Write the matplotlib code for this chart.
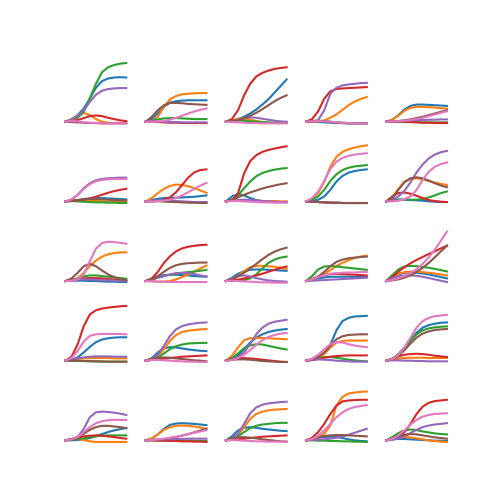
import matplotlib
matplotlib.use('Agg')
import matplotlib.pyplot as plt

# shared time axis (11 samples per curve)
time = [0, 10, 20, 30, 40, 50, 60, 70, 80, 90, 100]

# each panel: [blue, orange, green, red, purple, brown, pink]
r1c1 = [[0, 8, 20, 40, 70, 103, 123, 131, 134, 135, 134],
        [0, 8, 18, 27, 20, 8, 0, -3, -4, -4, -4],
        [0, 4, 12, 30, 70, 115, 150, 165, 172, 176, 178],
        [0, 2, 5, 11, 17, 19, 17, 12, 8, 4, 2],
        [0, 6, 17, 35, 60, 82, 94, 99, 101, 102, 102],
        [0, -1, -2, -3, -4, -4, -5, -5, -5, -5, -5],
        [0, 2, 1, -1, -3, -4, -5, -5, -5, -5, -5]]
r1c2 = [[0, 8, 25, 45, 58, 62, 64, 65, 65, 65, 65],
        [0, 2, 15, 45, 68, 78, 83, 85, 86, 87, 87],
        [0, 3, 7, 10, 11, 11, 10, 9, 8, 8, 8],
        [0, 0, -1, -2, -3, -3, -4, -4, -4, -4, -4],
        [0, 1, 1, 0, -1, -1, -2, -2, -2, -2, -2],
        [0, 15, 35, 50, 57, 57, 56, 54, 53, 52, 51],
        [0, 0, 1, 2, 6, 12, 18, 25, 31, 36, 40]]
r1c3 = [[0, 3, 8, 15, 25, 37, 52, 68, 88, 108, 128],
        [0, 4, 9, 10, 6, 2, -1, -3, -4, -4, -4],
        [0, 3, 4, 3, 1, 0, -1, -2, -3, -3, -3],
        [0, 8, 35, 80, 115, 137, 148, 155, 160, 163, 165],
        [0, 2, 6, 10, 13, 12, 9, 6, 3, 1, 0],
        [0, 2, 5, 10, 18, 27, 38, 50, 62, 72, 80],
        [0, -1, -2, -3, -4, -4, -5, -5, -5, -5, -5]]
r1c4 = [[0, 0, -1, -2, -3, -4, -4, -5, -5, -5, -5],
        [0, 0, 1, 4, 12, 22, 36, 50, 61, 69, 75],
        [0, 2, 3, 2, 0, -2, -3, -4, -4, -4, -4],
        [0, 8, 32, 70, 92, 99, 101, 102, 103, 104, 105],
        [0, 1, 5, 35, 85, 103, 110, 113, 115, 117, 118],
        [0, 1, 2, 1, -1, -3, -4, -5, -5, -5, -5],
        [0, 1, 2, 1, 0, -2, -3, -4, -5, -5, -5]]
r1c5 = [[0, 6, 20, 37, 48, 52, 52, 51, 50, 49, 48],
        [0, 6, 18, 33, 42, 45, 45, 44, 43, 41, 40],
        [0, 0, 0, -1, -1, -1, -2, -2, -2, -2, -2],
        [0, 1, 1, 0, -1, -2, -3, -3, -4, -4, -4],
        [0, 1, 2, 3, 4, 5, 5, 6, 6, 7, 7],
        [0, 1, 2, 4, 7, 11, 15, 20, 25, 30, 35],
        [0, 1, 2, 3, 5, 8, 12, 17, 22, 27, 32]]

r2c1 = [[0, 2, 4, 7, 9, 10, 10, 9, 8, 7, 6],
        [0, 2, 3, 3, 2, 1, 0, -1, -1, -2, -2],
        [0, 1, 0, -1, -2, -3, -3, -4, -4, -5, -5],
        [0, 1, 3, 5, 9, 14, 20, 26, 31, 35, 38],
        [0, 6, 20, 40, 55, 64, 68, 70, 71, 72, 72],
        [0, 2, 4, 6, 7, 7, 6, 5, 4, 3, 3],
        [0, 6, 19, 38, 52, 61, 65, 67, 68, 68, 68]]
r2c2 = [[0, 4, 8, 10, 11, 11, 12, 13, 14, 16, 18],
        [0, 10, 25, 38, 47, 51, 50, 46, 40, 33, 26],
        [0, 1, 1, 0, -1, -1, -2, -2, -3, -3, -3],
        [0, 0, 1, 4, 12, 28, 50, 72, 88, 95, 97],
        [0, 2, 3, 3, 2, 1, 0, -1, -2, -2, -2],
        [0, 1, 1, 0, -1, -2, -3, -4, -4, -5, -5],
        [0, 0, 1, 2, 5, 10, 18, 28, 38, 48, 56]]
r2c3 = [[0, 15, 22, 18, 10, 4, 1, -1, -2, -2, -2],
        [0, 3, 4, 3, 2, 2, 1, 1, 1, 0, 0],
        [0, 5, 18, 40, 60, 76, 86, 92, 96, 99, 101],
        [0, 3, 25, 85, 122, 140, 150, 156, 160, 164, 167],
        [0, 2, 4, 5, 4, 3, 1, 0, -1, -2, -2],
        [0, 5, 12, 20, 27, 33, 39, 44, 48, 52, 55],
        [0, 1, 1, 0, -1, -2, -3, -3, -4, -4, -4]]
r2c4 = [[0, 1, 5, 15, 35, 60, 77, 87, 92, 95, 97],
        [0, 8, 25, 60, 105, 135, 150, 158, 163, 167, 170],
        [0, 5, 15, 35, 62, 82, 95, 102, 106, 108, 110],
        [0, -1, -2, -3, -4, -4, -5, -5, -5, -5, -5],
        [0, -1, -2, -3, -4, -4, -5, -5, -5, -5, -5],
        [0, -1, -2, -3, -4, -4, -5, -5, -5, -5, -5],
        [0, 10, 30, 62, 98, 120, 132, 138, 142, 144, 146]]
r2c5 = [[0, 5, 6, 5, 4, 3, 2, 0, -1, -2, -2],
        [0, 12, 38, 60, 68, 70, 67, 62, 57, 53, 50],
        [0, 2, 4, 5, 5, 5, 7, 12, 18, 25, 30],
        [0, 15, 25, 27, 23, 17, 10, 4, 1, -1, -2],
        [0, 5, 15, 32, 58, 88, 112, 130, 142, 149, 153],
        [0, 10, 35, 58, 70, 73, 70, 63, 55, 48, 43],
        [0, 0, 2, 6, 15, 35, 65, 90, 105, 113, 118]]

r3c1 = [[0, 1, 1, 1, 0, 0, -1, -2, -2, -3, -3],
        [0, 2, 8, 25, 45, 62, 74, 81, 85, 87, 87],
        [0, 3, 8, 14, 17, 17, 15, 13, 11, 9, 7],
        [0, 3, 5, 8, 9, 9, 8, 6, 4, 3, 2],
        [0, 2, 4, 5, 5, 4, 3, 2, 1, 0, 0],
        [0, 8, 25, 45, 52, 45, 32, 20, 12, 5, 2],
        [0, 1, 5, 20, 60, 98, 115, 119, 118, 116, 113]]
r3c2 = [[0, 6, 14, 18, 19, 19, 18, 17, 15, 14, 13],
        [0, 0, -2, -2, 0, 5, 12, 20, 28, 38, 47],
        [0, 5, 10, 15, 19, 22, 25, 27, 29, 31, 34],
        [0, 8, 28, 55, 75, 90, 99, 104, 107, 109, 110],
        [0, 4, 10, 15, 20, 24, 25, 24, 21, 17, 14],
        [0, 5, 15, 28, 40, 48, 52, 54, 55, 56, 56],
        [0, -1, -2, -2, -3, -3, -3, -3, -3, -3, -3]]
r3c3 = [[0, 10, 22, 30, 34, 35, 35, 34, 33, 32, 31],
        [0, 5, 15, 30, 42, 46, 46, 45, 43, 40, 37],
        [0, 0, 1, 3, 8, 20, 38, 55, 65, 71, 74],
        [0, 2, 4, 8, 12, 17, 22, 28, 34, 40, 44],
        [0, 8, 15, 17, 14, 9, 5, 2, 0, -1, -2],
        [0, 5, 14, 25, 38, 52, 66, 79, 89, 96, 101],
        [0, 1, 0, -1, -2, -3, -4, -4, -5, -5, -5]]
r3c4 = [[0, 4, 8, 11, 13, 13, 13, 13, 12, 12, 12],
        [0, 5, 12, 22, 33, 45, 55, 63, 70, 74, 77],
        [0, 15, 35, 44, 45, 44, 42, 40, 38, 36, 34],
        [0, 6, 13, 18, 21, 22, 21, 20, 19, 18, 17],
        [0, 1, 2, 3, 4, 5, 6, 7, 8, 9, 10],
        [0, 5, 14, 28, 45, 58, 65, 69, 71, 73, 74],
        [0, 5, 12, 18, 22, 24, 25, 26, 26, 27, 27]]
r3c5 = [[0, 10, 20, 25, 26, 25, 23, 20, 16, 12, 8],
        [0, 12, 22, 27, 28, 28, 27, 25, 23, 20, 17],
        [0, 18, 35, 44, 46, 45, 43, 40, 37, 33, 29],
        [0, 12, 28, 42, 54, 64, 73, 82, 90, 99, 107],
        [0, 8, 14, 17, 17, 16, 13, 9, 5, 1, -3],
        [0, 2, 5, 10, 18, 28, 40, 55, 72, 90, 107],
        [0, 3, 8, 15, 24, 36, 52, 72, 95, 122, 150]]

r4c1 = [[0, 3, 10, 25, 42, 56, 64, 68, 70, 71, 71],
        [0, 2, 5, 7, 8, 8, 8, 8, 7, 7, 7],
        [0, 0, -1, -1, -2, -2, -3, -3, -3, -3, -3],
        [0, 12, 50, 105, 140, 153, 158, 161, 163, 165, 166],
        [0, 3, 7, 10, 12, 13, 13, 13, 12, 12, 12],
        [0, 0, 0, -1, -1, -2, -2, -3, -3, -3, -3],
        [0, 8, 30, 58, 75, 80, 81, 81, 81, 81, 80]]
r4c2 = [[0, 8, 25, 38, 41, 40, 37, 34, 32, 30, 29],
        [0, 4, 14, 35, 60, 78, 87, 91, 93, 95, 96],
        [0, 3, 10, 22, 35, 44, 49, 52, 53, 54, 54],
        [0, 2, 4, 6, 8, 10, 12, 13, 14, 15, 16],
        [0, 5, 18, 45, 75, 95, 105, 110, 113, 115, 116],
        [0, 6, 9, 10, 9, 7, 5, 3, 1, 0, -2],
        [0, 2, 2, 1, 0, -1, -2, -3, -3, -4, -4]]
r4c3 = [[0, 4, 15, 35, 55, 70, 80, 87, 91, 94, 96],
        [0, 15, 40, 62, 68, 69, 69, 68, 67, 66, 65],
        [0, 8, 22, 38, 46, 50, 49, 45, 41, 37, 34],
        [0, 5, 7, 8, 7, 5, 3, 1, -1, -3, -4],
        [0, 3, 10, 25, 50, 80, 100, 112, 118, 121, 124],
        [0, 3, 4, 4, 3, 1, -1, -2, -3, -4, -4],
        [0, 2, 8, 18, 32, 48, 62, 72, 78, 82, 84]]
r4c4 = [[0, 3, 10, 22, 48, 92, 120, 130, 134, 135, 136],
        [0, 2, 8, 20, 40, 55, 60, 61, 61, 61, 61],
        [0, 5, 9, 11, 11, 9, 6, 3, 1, -1, -2],
        [0, 2, 5, 9, 12, 14, 15, 16, 16, 16, 16],
        [0, 3, 4, 3, 2, 0, -1, -2, -3, -3, -3],
        [0, 4, 12, 25, 45, 65, 74, 78, 79, 80, 80],
        [0, 6, 18, 35, 50, 56, 55, 50, 46, 43, 41]]
r4c5 = [[0, 5, 18, 38, 62, 85, 100, 108, 112, 115, 116],
        [0, 3, 6, 8, 9, 9, 9, 8, 8, 8, 8],
        [0, 6, 20, 40, 62, 80, 92, 98, 101, 103, 104],
        [0, 6, 13, 18, 20, 21, 20, 18, 15, 13, 11],
        [0, 1, 1, 0, 0, -1, -1, -2, -2, -2, -2],
        [0, 4, 15, 32, 52, 70, 82, 89, 93, 95, 96],
        [0, 5, 18, 40, 70, 100, 120, 130, 135, 137, 139]]

r5c1 = [[0, 0, 1, 3, 7, 13, 19, 25, 30, 34, 37],
        [0, 3, 4, 1, -3, -5, -5, -5, -5, -5, -5],
        [0, 2, 4, 6, 9, 12, 14, 15, 15, 15, 15],
        [0, 4, 8, 12, 14, 15, 14, 12, 10, 7, 5],
        [0, 3, 10, 35, 70, 85, 87, 86, 84, 81, 77],
        [0, 4, 10, 20, 32, 40, 44, 44, 42, 40, 37],
        [0, 3, 10, 25, 40, 52, 58, 61, 62, 62, 62]]
r5c2 = [[0, 5, 18, 35, 47, 51, 52, 51, 50, 48, 46],
        [0, 6, 18, 32, 40, 44, 45, 44, 42, 39, 35],
        [0, 0, 0, 0, -1, -1, -1, -1, -2, -2, -2],
        [0, 0, -1, -1, -2, -2, -3, -3, -4, -4, -5],
        [0, 1, 2, 3, 3, 4, 4, 5, 5, 5, 5],
        [0, 1, 2, 4, 7, 10, 14, 19, 24, 30, 35],
        [0, 1, 3, 5, 8, 11, 15, 19, 23, 27, 31]]
r5c3 = [[0, 12, 30, 38, 40, 38, 35, 33, 31, 29, 28],
        [0, 4, 16, 40, 65, 80, 87, 91, 93, 94, 95],
        [0, 4, 12, 25, 37, 44, 48, 50, 52, 53, 53],
        [0, 1, 3, 5, 7, 9, 11, 12, 13, 14, 15],
        [0, 5, 20, 50, 82, 100, 108, 112, 114, 116, 117],
        [0, 6, 9, 10, 8, 6, 3, 1, -1, -3, -4],
        [0, 1, 0, -1, -2, -3, -3, -4, -4, -4, -4]]
r5c4 = [[0, 4, 8, 10, 11, 10, 7, 3, 0, -2, -3],
        [0, 2, 8, 20, 45, 105, 132, 142, 145, 147, 148],
        [0, 0, -1, -1, -2, -2, -3, -3, -4, -4, -5],
        [0, 8, 25, 50, 80, 105, 118, 121, 122, 123, 123],
        [0, 1, 2, 3, 5, 8, 12, 17, 23, 29, 35],
        [0, 5, 10, 13, 15, 16, 16, 15, 14, 13, 12],
        [0, 4, 14, 30, 50, 70, 85, 95, 101, 104, 107]]
r5c5 = [[0, 3, 4, 4, 3, 2, 1, 0, -1, -1, -2],
        [0, 5, 8, 10, 9, 6, 3, 0, -2, -4, -5],
        [0, 10, 22, 30, 33, 31, 27, 24, 21, 19, 18],
        [0, 3, 10, 25, 50, 80, 102, 114, 119, 121, 123],
        [0, 2, 6, 13, 22, 32, 40, 45, 48, 50, 52],
        [0, 6, 13, 17, 19, 18, 15, 12, 9, 7, 5],
        [0, 5, 15, 30, 48, 62, 72, 77, 80, 81, 82]]

panels = [[r1c1, r1c2, r1c3, r1c4, r1c5],
          [r2c1, r2c2, r2c3, r2c4, r2c5],
          [r3c1, r3c2, r3c3, r3c4, r3c5],
          [r4c1, r4c2, r4c3, r4c4, r4c5],
          [r5c1, r5c2, r5c3, r5c4, r5c5]]

fig, axes = plt.subplots(5, 5, figsize=(5, 5), dpi=100, sharex=True, sharey=True)
for i in range(5):
    for j in range(5):
        ax = axes[i, j]
        for series in panels[i][j]:
            ax.plot(time, series)
        ax.axis('off')

fig.savefig('out.png', dpi=100)
